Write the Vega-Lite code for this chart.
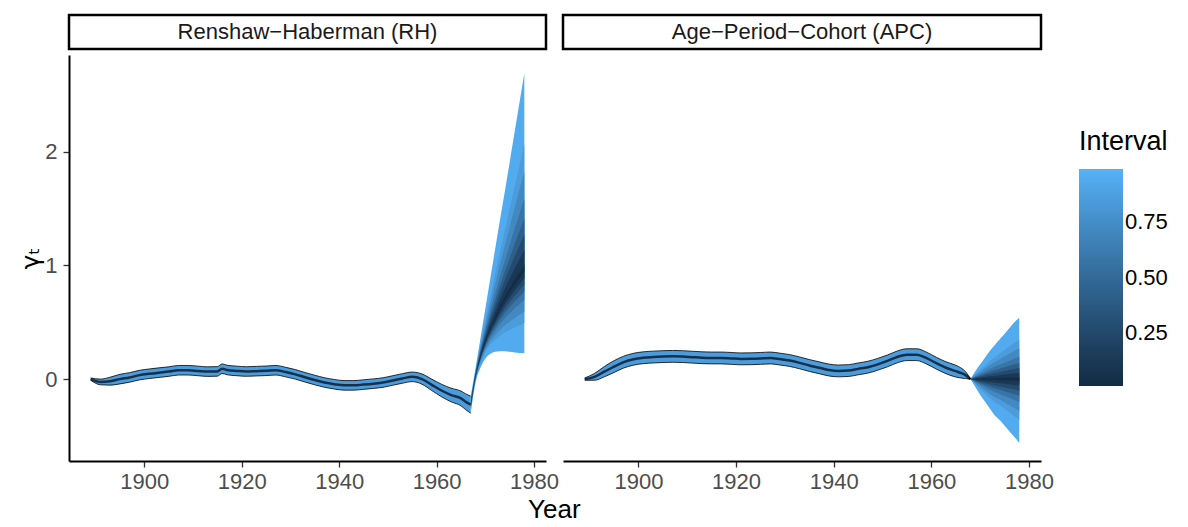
{
  "$schema": "https://vega.github.io/schema/vega-lite/v6.json",
  "padding": {"left": 18, "top": 13, "right": 5, "bottom": 5},
  "title": {"text": "Year", "orient": "bottom", "anchor": "middle", "frame": "bounds", "fontSize": 26, "font": "Liberation Sans", "fontWeight": "normal", "color": "black", "offset": 5, "dx": -39},
  "config": {
    "view": {"stroke": null},
    "font": "Liberation Sans",
    "axis": {"grid": false, "domainColor": "black", "domainWidth": 2, "tickColor": "#333333", "tickWidth": 1.3, "tickSize": 6, "labelColor": "#4D4D4D", "labelFontSize": 22, "labelFont": "Liberation Sans", "titleFont": "Liberation Sans", "titleFontWeight": "normal", "titleColor": "black"},
    "legend": {"gradientLength": 217, "gradientThickness": 44, "gradientStrokeWidth": 0, "titleFontSize": 27, "titleFont": "Liberation Sans", "titleFontWeight": "normal", "titleColor": "black", "titlePadding": 13, "labelFontSize": 22, "labelFont": "Liberation Sans", "labelColor": "black", "labelOffset": 14}
  },
  "datasets": {
    "rhHist": [
      {"year": 1889, "med": 0.0, "lo": -0.01, "hi": 0.01},
      {"year": 1891, "med": -0.025, "lo": -0.05, "hi": 0.0},
      {"year": 1893, "med": -0.018, "lo": -0.053, "hi": 0.017},
      {"year": 1895, "med": 0.0, "lo": -0.042, "hi": 0.042},
      {"year": 1897, "med": 0.015, "lo": -0.027, "hi": 0.057},
      {"year": 1899, "med": 0.035, "lo": -0.007, "hi": 0.077},
      {"year": 1901, "med": 0.047, "lo": 0.005, "hi": 0.089},
      {"year": 1903, "med": 0.057, "lo": 0.015, "hi": 0.099},
      {"year": 1905, "med": 0.066, "lo": 0.024, "hi": 0.108},
      {"year": 1907, "med": 0.078, "lo": 0.036, "hi": 0.12},
      {"year": 1909, "med": 0.078, "lo": 0.036, "hi": 0.12},
      {"year": 1911, "med": 0.072, "lo": 0.03, "hi": 0.114},
      {"year": 1913, "med": 0.066, "lo": 0.024, "hi": 0.108},
      {"year": 1915, "med": 0.068, "lo": 0.026, "hi": 0.11},
      {"year": 1916, "med": 0.092, "lo": 0.05, "hi": 0.134},
      {"year": 1917, "med": 0.08, "lo": 0.038, "hi": 0.122},
      {"year": 1919, "med": 0.072, "lo": 0.03, "hi": 0.114},
      {"year": 1921, "med": 0.067, "lo": 0.025, "hi": 0.109},
      {"year": 1923, "med": 0.07, "lo": 0.028, "hi": 0.112},
      {"year": 1925, "med": 0.073, "lo": 0.031, "hi": 0.115},
      {"year": 1927, "med": 0.078, "lo": 0.036, "hi": 0.12},
      {"year": 1929, "med": 0.062, "lo": 0.02, "hi": 0.104},
      {"year": 1931, "med": 0.042, "lo": 0.0, "hi": 0.084},
      {"year": 1933, "med": 0.016, "lo": -0.026, "hi": 0.058},
      {"year": 1935, "med": -0.008, "lo": -0.05, "hi": 0.034},
      {"year": 1937, "med": -0.03, "lo": -0.072, "hi": 0.012},
      {"year": 1939, "med": -0.045, "lo": -0.087, "hi": -0.003},
      {"year": 1941, "med": -0.055, "lo": -0.097, "hi": -0.013},
      {"year": 1943, "med": -0.055, "lo": -0.097, "hi": -0.013},
      {"year": 1945, "med": -0.048, "lo": -0.09, "hi": -0.006},
      {"year": 1947, "med": -0.04, "lo": -0.082, "hi": 0.002},
      {"year": 1949, "med": -0.03, "lo": -0.072, "hi": 0.012},
      {"year": 1951, "med": -0.012, "lo": -0.054, "hi": 0.03},
      {"year": 1953, "med": 0.006, "lo": -0.036, "hi": 0.048},
      {"year": 1955, "med": 0.02, "lo": -0.022, "hi": 0.062},
      {"year": 1957, "med": 0.0, "lo": -0.045, "hi": 0.045},
      {"year": 1959, "med": -0.05, "lo": -0.1, "hi": 0.0},
      {"year": 1961, "med": -0.1, "lo": -0.155, "hi": -0.045},
      {"year": 1963, "med": -0.14, "lo": -0.2, "hi": -0.08},
      {"year": 1965, "med": -0.17, "lo": -0.235, "hi": -0.105},
      {"year": 1966, "med": -0.2, "lo": -0.27, "hi": -0.13},
      {"year": 1967, "med": -0.225, "lo": -0.3, "hi": -0.15}
    ],
    "rhFan": [
      {"year": 1967, "l1": -0.3, "l2": -0.271, "l3": -0.26, "l4": -0.249, "l5": -0.241, "l6": -0.234, "l7": -0.228, "l8": -0.222, "h1": -0.15, "h2": -0.175, "h3": -0.185, "h4": -0.195, "h5": -0.202, "h6": -0.207, "h7": -0.213, "h8": -0.218},
      {"year": 1968, "l1": -0.03, "l2": -0.008, "l3": 0.0, "l4": 0.008, "l5": 0.014, "l6": 0.019, "l7": 0.024, "l8": 0.029, "h1": 0.1, "h2": 0.075, "h3": 0.065, "h4": 0.055, "h5": 0.048, "h6": 0.043, "h7": 0.037, "h8": 0.032},
      {"year": 1969, "l1": 0.1, "l2": 0.136, "l3": 0.15, "l4": 0.164, "l5": 0.174, "l6": 0.182, "l7": 0.19, "l8": 0.198, "h1": 0.36, "h2": 0.302, "h3": 0.28, "h4": 0.258, "h5": 0.242, "h6": 0.229, "h7": 0.216, "h8": 0.204},
      {"year": 1970, "l1": 0.18, "l2": 0.234, "l3": 0.255, "l4": 0.276, "l5": 0.291, "l6": 0.303, "l7": 0.315, "l8": 0.326, "h1": 0.62, "h2": 0.516, "h3": 0.475, "h4": 0.434, "h5": 0.405, "h6": 0.382, "h7": 0.359, "h8": 0.337},
      {"year": 1971, "l1": 0.22, "l2": 0.299, "l3": 0.33, "l4": 0.361, "l5": 0.383, "l6": 0.4, "l7": 0.418, "l8": 0.435, "h1": 0.88, "h2": 0.722, "h3": 0.66, "h4": 0.598, "h5": 0.554, "h6": 0.519, "h7": 0.484, "h8": 0.451},
      {"year": 1972, "l1": 0.24, "l2": 0.344, "l3": 0.385, "l4": 0.426, "l5": 0.455, "l6": 0.478, "l7": 0.501, "l8": 0.523, "h1": 1.14, "h2": 0.92, "h3": 0.835, "h4": 0.75, "h5": 0.689, "h6": 0.64, "h7": 0.591, "h8": 0.545},
      {"year": 1973, "l1": 0.245, "l2": 0.38, "l3": 0.433, "l4": 0.485, "l5": 0.523, "l6": 0.553, "l7": 0.583, "l8": 0.611, "h1": 1.4, "h2": 1.119, "h3": 1.01, "h4": 0.901, "h5": 0.823, "h6": 0.76, "h7": 0.698, "h8": 0.64},
      {"year": 1974, "l1": 0.245, "l2": 0.409, "l3": 0.473, "l4": 0.536, "l5": 0.582, "l6": 0.618, "l7": 0.655, "l8": 0.689, "h1": 1.65, "h2": 1.308, "h3": 1.175, "h4": 1.042, "h5": 0.947, "h6": 0.871, "h7": 0.795, "h8": 0.724},
      {"year": 1975, "l1": 0.24, "l2": 0.431, "l3": 0.505, "l4": 0.579, "l5": 0.632, "l6": 0.675, "l7": 0.717, "l8": 0.757, "h1": 1.91, "h2": 1.5, "h3": 1.34, "h4": 1.18, "h5": 1.066, "h6": 0.975, "h7": 0.884, "h8": 0.799},
      {"year": 1976, "l1": 0.235, "l2": 0.453, "l3": 0.538, "l4": 0.622, "l5": 0.683, "l6": 0.731, "l7": 0.78, "l8": 0.825, "h1": 2.17, "h2": 1.691, "h3": 1.505, "h4": 1.319, "h5": 1.186, "h6": 1.079, "h7": 0.973, "h8": 0.873},
      {"year": 1977, "l1": 0.23, "l2": 0.471, "l3": 0.565, "l4": 0.659, "l5": 0.726, "l6": 0.779, "l7": 0.833, "l8": 0.883, "h1": 2.43, "h2": 1.879, "h3": 1.665, "h4": 1.451, "h5": 1.298, "h6": 1.175, "h7": 1.053, "h8": 0.938},
      {"year": 1978, "l1": 0.23, "l2": 0.493, "l3": 0.595, "l4": 0.697, "l5": 0.77, "l6": 0.829, "l7": 0.887, "l8": 0.942, "h1": 2.69, "h2": 2.067, "h3": 1.825, "h4": 1.583, "h5": 1.41, "h6": 1.271, "h7": 1.133, "h8": 1.003}
    ],
    "apcHist": [
      {"year": 1889, "med": 0.0, "lo": -0.01, "hi": 0.01},
      {"year": 1891, "med": 0.02, "lo": -0.01, "hi": 0.05},
      {"year": 1893, "med": 0.065, "lo": 0.02, "hi": 0.11},
      {"year": 1895, "med": 0.11, "lo": 0.058, "hi": 0.162},
      {"year": 1897, "med": 0.15, "lo": 0.098, "hi": 0.202},
      {"year": 1899, "med": 0.175, "lo": 0.123, "hi": 0.227},
      {"year": 1901, "med": 0.188, "lo": 0.136, "hi": 0.24},
      {"year": 1903, "med": 0.194, "lo": 0.142, "hi": 0.246},
      {"year": 1905, "med": 0.198, "lo": 0.146, "hi": 0.25},
      {"year": 1907, "med": 0.2, "lo": 0.148, "hi": 0.252},
      {"year": 1909, "med": 0.198, "lo": 0.146, "hi": 0.25},
      {"year": 1911, "med": 0.193, "lo": 0.141, "hi": 0.245},
      {"year": 1913, "med": 0.188, "lo": 0.136, "hi": 0.24},
      {"year": 1915, "med": 0.186, "lo": 0.134, "hi": 0.238},
      {"year": 1917, "med": 0.186, "lo": 0.134, "hi": 0.238},
      {"year": 1919, "med": 0.182, "lo": 0.13, "hi": 0.234},
      {"year": 1921, "med": 0.178, "lo": 0.126, "hi": 0.23},
      {"year": 1923, "med": 0.179, "lo": 0.127, "hi": 0.231},
      {"year": 1925, "med": 0.182, "lo": 0.13, "hi": 0.234},
      {"year": 1927, "med": 0.186, "lo": 0.134, "hi": 0.238},
      {"year": 1929, "med": 0.176, "lo": 0.124, "hi": 0.228},
      {"year": 1931, "med": 0.163, "lo": 0.111, "hi": 0.215},
      {"year": 1933, "med": 0.143, "lo": 0.091, "hi": 0.195},
      {"year": 1935, "med": 0.12, "lo": 0.068, "hi": 0.172},
      {"year": 1937, "med": 0.1, "lo": 0.048, "hi": 0.152},
      {"year": 1939, "med": 0.08, "lo": 0.028, "hi": 0.132},
      {"year": 1941, "med": 0.072, "lo": 0.02, "hi": 0.124},
      {"year": 1943, "med": 0.075, "lo": 0.023, "hi": 0.127},
      {"year": 1945, "med": 0.09, "lo": 0.038, "hi": 0.142},
      {"year": 1947, "med": 0.105, "lo": 0.053, "hi": 0.157},
      {"year": 1949, "med": 0.13, "lo": 0.078, "hi": 0.182},
      {"year": 1951, "med": 0.16, "lo": 0.108, "hi": 0.212},
      {"year": 1953, "med": 0.195, "lo": 0.143, "hi": 0.247},
      {"year": 1955, "med": 0.215, "lo": 0.163, "hi": 0.267},
      {"year": 1957, "med": 0.215, "lo": 0.163, "hi": 0.267},
      {"year": 1959, "med": 0.185, "lo": 0.133, "hi": 0.237},
      {"year": 1961, "med": 0.14, "lo": 0.088, "hi": 0.192},
      {"year": 1963, "med": 0.1, "lo": 0.048, "hi": 0.152},
      {"year": 1965, "med": 0.07, "lo": 0.018, "hi": 0.122},
      {"year": 1966, "med": 0.055, "lo": 0.01, "hi": 0.1},
      {"year": 1967, "med": 0.035, "lo": 0.005, "hi": 0.065},
      {"year": 1968, "med": 0.0, "lo": 0.0, "hi": 0.0}
    ],
    "apcFan": [
      {"year": 1968, "l1": 0, "l2": 0, "l3": 0, "l4": 0, "l5": 0, "l6": 0, "l7": 0, "l8": 0, "h1": 0, "h2": 0, "h3": 0, "h4": 0, "h5": 0, "h6": 0, "h7": 0, "h8": 0},
      {"year": 1969, "l1": -0.07, "l2": -0.045, "l3": -0.035, "l4": -0.025, "l5": -0.018, "l6": -0.013, "l7": -0.007, "l8": -0.002, "h1": 0.07, "h2": 0.045, "h3": 0.035, "h4": 0.025, "h5": 0.018, "h6": 0.013, "h7": 0.007, "h8": 0.002},
      {"year": 1970, "l1": -0.14, "l2": -0.09, "l3": -0.07, "l4": -0.05, "l5": -0.036, "l6": -0.025, "l7": -0.014, "l8": -0.0035, "h1": 0.13, "h2": 0.083, "h3": 0.065, "h4": 0.047, "h5": 0.034, "h6": 0.023, "h7": 0.013, "h8": 0.003},
      {"year": 1971, "l1": -0.2, "l2": -0.128, "l3": -0.1, "l4": -0.072, "l5": -0.052, "l6": -0.036, "l7": -0.02, "l8": -0.005, "h1": 0.19, "h2": 0.122, "h3": 0.095, "h4": 0.068, "h5": 0.049, "h6": 0.034, "h7": 0.019, "h8": 0.005},
      {"year": 1972, "l1": -0.26, "l2": -0.166, "l3": -0.13, "l4": -0.094, "l5": -0.068, "l6": -0.047, "l7": -0.026, "l8": -0.0065, "h1": 0.25, "h2": 0.16, "h3": 0.125, "h4": 0.09, "h5": 0.065, "h6": 0.045, "h7": 0.025, "h8": 0.006},
      {"year": 1973, "l1": -0.32, "l2": -0.205, "l3": -0.16, "l4": -0.115, "l5": -0.083, "l6": -0.058, "l7": -0.032, "l8": -0.008, "h1": 0.3, "h2": 0.192, "h3": 0.15, "h4": 0.108, "h5": 0.078, "h6": 0.054, "h7": 0.03, "h8": 0.0075},
      {"year": 1974, "l1": -0.36, "l2": -0.23, "l3": -0.18, "l4": -0.13, "l5": -0.094, "l6": -0.065, "l7": -0.036, "l8": -0.009, "h1": 0.35, "h2": 0.224, "h3": 0.175, "h4": 0.126, "h5": 0.091, "h6": 0.063, "h7": 0.035, "h8": 0.009},
      {"year": 1975, "l1": -0.41, "l2": -0.262, "l3": -0.205, "l4": -0.148, "l5": -0.107, "l6": -0.074, "l7": -0.041, "l8": -0.01, "h1": 0.4, "h2": 0.256, "h3": 0.2, "h4": 0.144, "h5": 0.104, "h6": 0.072, "h7": 0.04, "h8": 0.01},
      {"year": 1976, "l1": -0.46, "l2": -0.294, "l3": -0.23, "l4": -0.166, "l5": -0.12, "l6": -0.083, "l7": -0.046, "l8": -0.0115, "h1": 0.45, "h2": 0.288, "h3": 0.225, "h4": 0.162, "h5": 0.117, "h6": 0.081, "h7": 0.045, "h8": 0.011},
      {"year": 1977, "l1": -0.51, "l2": -0.326, "l3": -0.255, "l4": -0.184, "l5": -0.133, "l6": -0.092, "l7": -0.051, "l8": -0.013, "h1": 0.5, "h2": 0.32, "h3": 0.25, "h4": 0.18, "h5": 0.13, "h6": 0.09, "h7": 0.05, "h8": 0.0125},
      {"year": 1978, "l1": -0.56, "l2": -0.358, "l3": -0.28, "l4": -0.202, "l5": -0.146, "l6": -0.101, "l7": -0.056, "l8": -0.014, "h1": 0.54, "h2": 0.346, "h3": 0.27, "h4": 0.194, "h5": 0.14, "h6": 0.097, "h7": 0.054, "h8": 0.0135}
    ]
  },
  "spacing": 2,
  "hconcat": [
    {
      "spacing": 4,
      "vconcat": [
        {
          "width": 477, "height": 34,
          "view": {"stroke": "black", "strokeWidth": 2.5, "fill": "white"},
          "data": {"values": [{"label": "Renshaw−Haberman (RH)"}]},
          "mark": {"type": "text", "fontSize": 22, "font": "Liberation Sans", "color": "#1A1A1A"},
          "encoding": {"text": {"field": "label"}}
        },
        {
          "width": 477, "height": 406,
          "layer": [
            {"data": {"name": "rhFan"}, "mark": {"type": "area", "interpolate": "monotone"},
             "encoding": {
               "x": {"field": "year", "type": "quantitative", "scale": {"domain": [1884.55, 1982.45], "nice": false, "zero": false}, "axis": {"values": [1900, 1920, 1940, 1960, 1980], "format": "d", "labelPadding": 4, "title": null}},
               "y": {"field": "l1", "type": "quantitative", "scale": {"domain": [-0.72, 2.85], "nice": false, "zero": false}, "axis": {"values": [0, 1, 2], "format": "d", "labelPadding": 6, "title": "γₜ", "titleFont": "DejaVu Sans", "titleFontSize": 25, "titlePadding": 1}},
               "y2": {"field": "h1"},
               "color": {"datum": 0.95, "type": "quantitative", "scale": {"domain": [0.01, 0.99], "range": ["#132B43", "#56B1F7"], "interpolate": "lab"}, "legend": {"type": "gradient", "direction": "vertical", "title": "Interval", "values": [0.25, 0.5, 0.75], "format": ".2f", "orient": "none", "legendX": 1010, "legendY": 114}}
             }},
            {"data": {"name": "rhFan"}, "mark": {"type": "area", "interpolate": "monotone"},
             "encoding": {"x": {"field": "year", "type": "quantitative"}, "y": {"field": "l2", "type": "quantitative"}, "y2": {"field": "h2"},
               "color": {"datum": 0.85, "type": "quantitative"}}},
            {"data": {"name": "rhFan"}, "mark": {"type": "area", "interpolate": "monotone"},
             "encoding": {"x": {"field": "year", "type": "quantitative"}, "y": {"field": "l3", "type": "quantitative"}, "y2": {"field": "h3"},
               "color": {"datum": 0.72, "type": "quantitative"}}},
            {"data": {"name": "rhFan"}, "mark": {"type": "area", "interpolate": "monotone"},
             "encoding": {"x": {"field": "year", "type": "quantitative"}, "y": {"field": "l4", "type": "quantitative"}, "y2": {"field": "h4"},
               "color": {"datum": 0.57, "type": "quantitative"}}},
            {"data": {"name": "rhFan"}, "mark": {"type": "area", "interpolate": "monotone"},
             "encoding": {"x": {"field": "year", "type": "quantitative"}, "y": {"field": "l5", "type": "quantitative"}, "y2": {"field": "h5"},
               "color": {"datum": 0.42, "type": "quantitative"}}},
            {"data": {"name": "rhFan"}, "mark": {"type": "area", "interpolate": "monotone"},
             "encoding": {"x": {"field": "year", "type": "quantitative"}, "y": {"field": "l6", "type": "quantitative"}, "y2": {"field": "h6"},
               "color": {"datum": 0.27, "type": "quantitative"}}},
            {"data": {"name": "rhFan"}, "mark": {"type": "area", "interpolate": "monotone"},
             "encoding": {"x": {"field": "year", "type": "quantitative"}, "y": {"field": "l7", "type": "quantitative"}, "y2": {"field": "h7"},
               "color": {"datum": 0.12, "type": "quantitative"}}},
            {"data": {"name": "rhFan"}, "mark": {"type": "area", "interpolate": "monotone"},
             "encoding": {"x": {"field": "year", "type": "quantitative"}, "y": {"field": "l8", "type": "quantitative"}, "y2": {"field": "h8"},
               "color": {"datum": 0.03, "type": "quantitative"}}},
            {"data": {"name": "rhHist"}, "mark": {"type": "area", "interpolate": "monotone"},
             "encoding": {"x": {"field": "year", "type": "quantitative"}, "y": {"field": "lo", "type": "quantitative"}, "y2": {"field": "hi"},
               "color": {"datum": 0.85, "type": "quantitative"}}},
            {"data": {"name": "rhHist"}, "mark": {"type": "line", "interpolate": "monotone", "strokeWidth": 2.5, "color": "#16304B"},
             "encoding": {"x": {"field": "year", "type": "quantitative"}, "y": {"field": "med", "type": "quantitative"}}},
            {"data": {"name": "rhHist"}, "mark": {"type": "line", "interpolate": "monotone", "strokeWidth": 0.8, "color": "black"},
             "encoding": {"x": {"field": "year", "type": "quantitative"}, "y": {"field": "lo", "type": "quantitative"}}},
            {"data": {"name": "rhHist"}, "mark": {"type": "line", "interpolate": "monotone", "strokeWidth": 0.8, "color": "black"},
             "encoding": {"x": {"field": "year", "type": "quantitative"}, "y": {"field": "hi", "type": "quantitative"}}}
          ]
        }
      ]
    },
    {
      "spacing": 4,
      "vconcat": [
        {
          "width": 478, "height": 34,
          "view": {"stroke": "black", "strokeWidth": 2.5, "fill": "white"},
          "data": {"values": [{"label": "Age−Period−Cohort (APC)"}]},
          "mark": {"type": "text", "fontSize": 22, "font": "Liberation Sans", "color": "#1A1A1A"},
          "encoding": {"text": {"field": "label"}}
        },
        {
          "width": 478, "height": 406,
          "layer": [
            {"data": {"name": "apcFan"}, "mark": {"type": "area", "interpolate": "monotone"},
             "encoding": {
               "x": {"field": "year", "type": "quantitative", "scale": {"domain": [1884.55, 1982.45], "nice": false, "zero": false}, "axis": {"values": [1900, 1920, 1940, 1960, 1980], "format": "d", "labelPadding": 4, "title": null}},
               "y": {"field": "l1", "type": "quantitative", "scale": {"domain": [-0.72, 2.85], "nice": false, "zero": false}, "axis": null},
               "y2": {"field": "h1"},
               "color": {"datum": 0.95, "type": "quantitative", "scale": {"domain": [0.01, 0.99], "range": ["#132B43", "#56B1F7"], "interpolate": "lab"}, "legend": {"type": "gradient", "direction": "vertical", "title": "Interval", "values": [0.25, 0.5, 0.75], "format": ".2f", "orient": "none", "legendX": 1010, "legendY": 114}}
             }},
            {"data": {"name": "apcFan"}, "mark": {"type": "area", "interpolate": "monotone"},
             "encoding": {"x": {"field": "year", "type": "quantitative"}, "y": {"field": "l2", "type": "quantitative", "axis": null}, "y2": {"field": "h2"},
               "color": {"datum": 0.85, "type": "quantitative"}}},
            {"data": {"name": "apcFan"}, "mark": {"type": "area", "interpolate": "monotone"},
             "encoding": {"x": {"field": "year", "type": "quantitative"}, "y": {"field": "l3", "type": "quantitative", "axis": null}, "y2": {"field": "h3"},
               "color": {"datum": 0.72, "type": "quantitative"}}},
            {"data": {"name": "apcFan"}, "mark": {"type": "area", "interpolate": "monotone"},
             "encoding": {"x": {"field": "year", "type": "quantitative"}, "y": {"field": "l4", "type": "quantitative", "axis": null}, "y2": {"field": "h4"},
               "color": {"datum": 0.57, "type": "quantitative"}}},
            {"data": {"name": "apcFan"}, "mark": {"type": "area", "interpolate": "monotone"},
             "encoding": {"x": {"field": "year", "type": "quantitative"}, "y": {"field": "l5", "type": "quantitative", "axis": null}, "y2": {"field": "h5"},
               "color": {"datum": 0.42, "type": "quantitative"}}},
            {"data": {"name": "apcFan"}, "mark": {"type": "area", "interpolate": "monotone"},
             "encoding": {"x": {"field": "year", "type": "quantitative"}, "y": {"field": "l6", "type": "quantitative", "axis": null}, "y2": {"field": "h6"},
               "color": {"datum": 0.27, "type": "quantitative"}}},
            {"data": {"name": "apcFan"}, "mark": {"type": "area", "interpolate": "monotone"},
             "encoding": {"x": {"field": "year", "type": "quantitative"}, "y": {"field": "l7", "type": "quantitative", "axis": null}, "y2": {"field": "h7"},
               "color": {"datum": 0.12, "type": "quantitative"}}},
            {"data": {"name": "apcFan"}, "mark": {"type": "area", "interpolate": "monotone"},
             "encoding": {"x": {"field": "year", "type": "quantitative"}, "y": {"field": "l8", "type": "quantitative", "axis": null}, "y2": {"field": "h8"},
               "color": {"datum": 0.03, "type": "quantitative"}}},
            {"data": {"name": "apcHist"}, "mark": {"type": "area", "interpolate": "monotone"},
             "encoding": {"x": {"field": "year", "type": "quantitative"}, "y": {"field": "lo", "type": "quantitative", "axis": null}, "y2": {"field": "hi"},
               "color": {"datum": 0.85, "type": "quantitative"}}},
            {"data": {"name": "apcHist"}, "mark": {"type": "line", "interpolate": "monotone", "strokeWidth": 2.5, "color": "#16304B"},
             "encoding": {"x": {"field": "year", "type": "quantitative"}, "y": {"field": "med", "type": "quantitative", "axis": null}}},
            {"data": {"name": "apcHist"}, "mark": {"type": "line", "interpolate": "monotone", "strokeWidth": 0.8, "color": "black"},
             "encoding": {"x": {"field": "year", "type": "quantitative"}, "y": {"field": "lo", "type": "quantitative", "axis": null}}},
            {"data": {"name": "apcHist"}, "mark": {"type": "line", "interpolate": "monotone", "strokeWidth": 0.8, "color": "black"},
             "encoding": {"x": {"field": "year", "type": "quantitative"}, "y": {"field": "hi", "type": "quantitative", "axis": null}}}
          ]
        }
      ]
    }
  ]
}
